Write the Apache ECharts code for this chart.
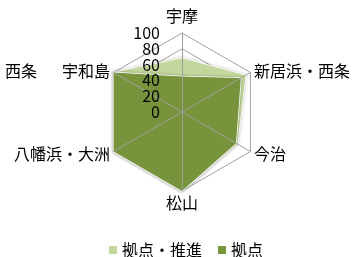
<!DOCTYPE html>
<html>
<head>
<meta charset="utf-8">
<script src="https://cdn.jsdelivr.net/npm/echarts@6/dist/echarts.min.js"></script>
<style>
  html, body { margin: 0; padding: 0; background: #fff; }
  #chart { width: 352px; height: 257px; }
</style>
</head>
<body>
<div id="chart"></div>
<script>
// clockwise from the top
const categories = ['宇摩', '新居浜・西条', '今治', '松山', '八幡浜・大洲', '宇和島']
const suishinValues = [68, 93, 81, 100, 100, 100]   // 拠点・推進
const kyotenValues = [45, 86, 79, 100, 100, 100]    // 拠点
const tickLabels = [0, 20, 40, 60, 80, 100]

const FONT = '"Noto Sans CJK JP", "Noto Sans", sans-serif'

// echarts lays indicators out counter-clockwise, so flip the order after the first one
const ccw = arr => [arr[0]].concat(arr.slice(1).reverse())

const tickMin = tickLabels[0]
const tickMax = tickLabels[tickLabels.length - 1]
const tickStep = tickLabels[1] - tickLabels[0]

const indicators = (labelOpt) => ccw(categories).map((name, i) => ({
  name: name,
  min: tickMin,
  max: tickMax,
  nameGap: i === 0 ? 9 : 4,
  axisLabel: Object.assign({ show: !!labelOpt && i === 0 }, labelOpt || {})
}))

const labelStyle = { color: '#000', fontSize: 16, fontFamily: FONT, margin: 22 }

// shared geometry for the stacked radar copies
const radarBase = {
  center: [182, 112],
  radius: 79,
  startAngle: 90,
  shape: 'polygon',
  splitNumber: (tickMax - tickMin) / tickStep
}

const chart = echarts.init(document.getElementById('chart'))

const option = {
  animation: false,
  textStyle: { fontFamily: FONT },
  legend: {
    data: ['拠点・推進', '拠点'],
    left: 104,
    top: 237,
    itemWidth: 8,
    itemHeight: 8,
    itemGap: 16,
    icon: 'rect',
    textStyle: { fontSize: 16, color: '#000', fontFamily: FONT }
  },
  radar: [
    Object.assign({}, radarBase, {
      indicator: indicators(null),
      axisName: { color: '#000', fontSize: 16, fontFamily: FONT },
      axisLine: { show: false },
      splitLine: { lineStyle: { color: '#a0a0a0', width: 1 } },
      splitArea: { show: false },
      axisLabel: { show: false }
    }),
    Object.assign({}, radarBase, {
      // spokes and inner tick labels, drawn over the fills
      z: 3,
      indicator: indicators({ showMinLabel: false, showMaxLabel: false }),
      axisName: { show: false },
      axisLine: { show: true, lineStyle: { color: '#a0a0a0', width: 1 } },
      splitLine: { show: false },
      splitArea: { show: false },
      axisTick: { show: false },
      axisLabel: Object.assign({ show: false }, labelStyle)
    }),
    Object.assign({}, radarBase, {
      // end tick labels (0 and 100) only
      z: 3,
      indicator: indicators({
        showMinLabel: true,
        showMaxLabel: true,
        formatter: v => (v === tickMin || v === tickMax) ? String(v) : ''
      }),
      axisName: { show: false },
      axisLine: { show: false },
      splitLine: { show: false },
      splitArea: { show: false },
      axisTick: { show: false },
      axisLabel: Object.assign({ show: false }, labelStyle)
    })
  ],
  series: [
    {
      name: '拠点・推進',
      type: 'radar',
      radarIndex: 0,
      symbol: 'none',
      itemStyle: { color: '#c3d69b' },
      lineStyle: { color: '#ffffff', width: 1.5, shadowBlur: 3, shadowColor: 'rgba(0,0,0,0.35)' },
      areaStyle: { color: '#c3d69b', opacity: 1 },
      data: [{ value: ccw(suishinValues), name: '拠点・推進' }]
    },
    {
      name: '拠点',
      type: 'radar',
      radarIndex: 0,
      symbol: 'none',
      itemStyle: { color: '#77933c' },
      lineStyle: { color: '#ffffff', width: 1.5, shadowBlur: 3, shadowColor: 'rgba(0,0,0,0.35)' },
      areaStyle: { color: '#77933c', opacity: 1 },
      data: [{ value: ccw(kyotenValues), name: '拠点' }]
    }
  ],
  graphic: [
    {
      // overflowing label text visible at the left edge of the original
      type: 'text',
      right: 352 - 37,
      top: 63,
      style: { text: '・西条', fill: '#000', font: '16px ' + FONT, textAlign: 'right' }
    }
  ]
}

chart.setOption(option)
</script>
</body>
</html>
